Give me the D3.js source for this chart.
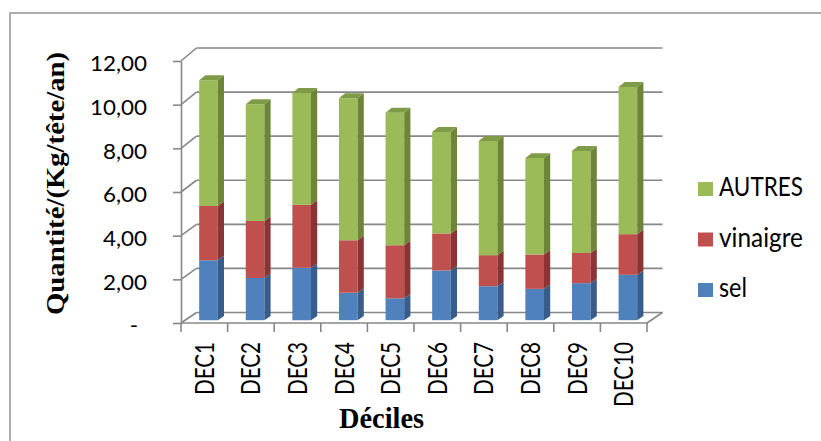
<!DOCTYPE html>
<html>
<head>
<meta charset="utf-8">
<script src="https://cdn.jsdelivr.net/npm/d3@7"></script>
<style>
  html, body { margin: 0; padding: 0; background: #ffffff; }
  svg { display: block; }
</style>
</head>
<body>
<script>
// Consommation par décile : quantités (kg/tête/an), colonnes empilées 3D
const categories = ["DEC1", "DEC2", "DEC3", "DEC4", "DEC5", "DEC6", "DEC7", "DEC8", "DEC9", "DEC10"];
const seriesNames = ["sel", "vinaigre", "AUTRES"];
const sel      = [2.74, 1.93, 2.39, 1.25, 1.00, 2.27, 1.55, 1.43, 1.69, 2.07];
const vinaigre = [2.47, 2.60, 2.88, 2.40, 2.42, 1.69, 1.42, 1.57, 1.38, 1.86];
const autres   = [5.75, 5.33, 5.11, 6.49, 6.06, 4.64, 5.22, 4.41, 4.66, 6.72];
const yTicks = [0, 2, 4, 6, 8, 10, 12];
const yTickLabels = ["-", "2,00", "4,00", "6,00", "8,00", "10,00", "12,00"];
const yTitle = "Quantité/(Kg/tête/an)";
const xTitle = "Déciles";

const W = 821, H = 441;
const SANS = "Lato, 'Open Sans', 'Liberation Sans', sans-serif";
const SERIF = "'Liberation Serif', 'DejaVu Serif', serif";
const GRID = "#878787";

const colors = {
  sel:      { front: "#4F81BD", side: "#385D8A", top: "#41699A" },
  vinaigre: { front: "#C0504D", side: "#8A3533", top: "#9C3F3C" },
  AUTRES:   { front: "#9BBB59", side: "#6C8538", top: "#7F9B48" }
};

const rows = categories.map((c, i) => ({ cat: c, sel: sel[i], vinaigre: vinaigre[i], AUTRES: autres[i] }));
const stacked = d3.stack().keys(seriesNames)(rows);

const svg = d3.select("body").append("svg").attr("width", W).attr("height", H);
svg.append("rect").attr("width", W).attr("height", H).attr("fill", "#ffffff");

// chart-area frame (runs off the right and bottom edges)
svg.append("rect")
  .attr("x", 10).attr("y", 13).attr("width", 900).attr("height", 600)
  .attr("fill", "none").attr("stroke", "#9a9a9a").attr("stroke-width", 1.6);

// front plane and back wall scales (oblique 3D)
const x = d3.scaleBand().domain(categories).range([181, 647]).padding(0);
const yF = d3.scaleLinear().domain([0, 12]).range([323, 61]);
const yB = d3.scaleLinear().domain([0, 12]).range([312.5, 48]);
const DX = 15.5;
const px = (u, f) => u + f * DX;
const py = (v, f) => yF(v) + f * (yB(v) - yF(v));
const [x0, x1] = x.range();

// back wall gridlines
const walls = svg.append("g").attr("stroke", GRID).attr("stroke-width", 1.6).attr("fill", "none");
yTicks.forEach(v => {
  walls.append("line")
    .attr("x1", px(x0, 1)).attr("y1", yB(v)).attr("x2", px(x1, 1)).attr("y2", yB(v));
  // side wall diagonals
  walls.append("line")
    .attr("x1", x0).attr("y1", yF(v)).attr("x2", px(x0, 1)).attr("y2", yB(v));
});
// floor right edge
walls.append("line")
  .attr("x1", x1).attr("y1", yF(0)).attr("x2", px(x1, 1)).attr("y2", yB(0));

// y axis on the front plane
const yAxis = d3.axisLeft(yF)
  .tickValues(yTicks)
  .tickFormat((d, i) => yTickLabels[i])
  .tickSize(8).tickSizeOuter(0).tickPadding(26);
const gy = svg.append("g").attr("transform", `translate(${x0},0)`).call(yAxis);
gy.selectAll("path, line").attr("stroke", GRID).attr("stroke-width", 1.6);
gy.selectAll("text")
  .attr("fill", "#000").attr("dy", "0.48em")
  .style("font-family", SANS).style("font-size", "20.5px");
const tickK = 57 / gy.selectAll("text").filter(d => d === 12).node().getComputedTextLength();
gy.selectAll("text").each(function (d) {
  const t = d3.select(this);
  t.attr("textLength", this.getComputedTextLength() * tickK).attr("lengthAdjust", "spacingAndGlyphs");
  if (d === 0) t.attr("x", -43);
});

// x axis (front floor edge) with ticks at category boundaries
const gx = svg.append("g").attr("stroke", GRID).attr("stroke-width", 1.6);
gx.append("line").attr("x1", x0).attr("y1", yF(0)).attr("x2", x1).attr("y2", yF(0));
categories.map(c => x(c)).concat([x1]).forEach(b => {
  gx.append("line").attr("x1", b).attr("y1", yF(0)).attr("x2", b).attr("y2", yF(0) + 9);
});

// stacked 3D columns
const bw = x.bandwidth();
const F1 = 0.27, F2 = 0.67;
const poly = pts => pts.map(p => p.join(",")).join(" ");
const bars = svg.append("g");
stacked.forEach((layer, k) => {
  const col = colors[layer.key];
  const isTop = k === stacked.length - 1;
  layer.forEach(d => {
    const u0 = x(d.data.cat) + 0.3 * bw, u1 = u0 + 0.4 * bw;
    const v0 = d[0], v1 = d[1];
    bars.append("polygon").attr("fill", col.front).attr("points", poly([
      [px(u0, F1), py(v0, F1)], [px(u1, F1), py(v0, F1)],
      [px(u1, F1), py(v1, F1)], [px(u0, F1), py(v1, F1)]
    ]));
    bars.append("polygon").attr("fill", col.side).attr("points", poly([
      [px(u1, F1), py(v0, F1)], [px(u1, F2), py(v0, F2)],
      [px(u1, F2), py(v1, F2)], [px(u1, F1), py(v1, F1)]
    ]));
    if (isTop) {
      bars.append("polygon").attr("fill", col.top).attr("points", poly([
        [px(u0, F1), py(v1, F1)], [px(u1, F1), py(v1, F1)],
        [px(u1, F2), py(v1, F2)], [px(u0, F2), py(v1, F2)]
      ]));
    }
  });
});

// category labels, rotated
const gl = svg.append("g");
const labels = gl.selectAll("text").data(categories).join("text")
  .attr("transform", c => `translate(${x(c) + bw / 2 + 9.5},342) rotate(-90)`)
  .attr("text-anchor", "end")
  .attr("fill", "#000")
  .style("font-family", SANS).style("font-size", "26.5px")
  .text(c => c);
const catK = 53 / labels.filter(c => c === "DEC1").node().getComputedTextLength();
labels.each(function () {
  d3.select(this).attr("textLength", this.getComputedTextLength() * catK).attr("lengthAdjust", "spacingAndGlyphs");
});

// axis titles
svg.append("text")
  .attr("transform", "translate(64,183.5) rotate(-90)")
  .attr("text-anchor", "middle")
  .attr("textLength", 263).attr("lengthAdjust", "spacingAndGlyphs")
  .style("font-family", SERIF).style("font-size", "26px").style("font-weight", "bold")
  .text(yTitle);
svg.append("text")
  .attr("x", 381.5).attr("y", 428)
  .attr("text-anchor", "middle")
  .attr("textLength", 85).attr("lengthAdjust", "spacingAndGlyphs")
  .style("font-family", SERIF).style("font-size", "29px").style("font-weight", "bold")
  .text(xTitle);

// legend (top to bottom: AUTRES, vinaigre, sel)
const legendItems = seriesNames.slice().reverse();
const legendW = { AUTRES: 84, vinaigre: 84, sel: 28 };
const lg = svg.append("g");
legendItems.forEach((name, i) => {
  const yb = 196 + i * 50.5;
  lg.append("rect").attr("x", 698).attr("y", yb - 14).attr("width", 15).attr("height", 14)
    .attr("fill", colors[name].front);
  lg.append("text").attr("x", 719).attr("y", yb)
    .attr("textLength", legendW[name]).attr("lengthAdjust", "spacingAndGlyphs")
    .attr("fill", "#000")
    .style("font-family", SANS).style("font-size", "26.5px")
    .text(name);
});
</script>
</body>
</html>
